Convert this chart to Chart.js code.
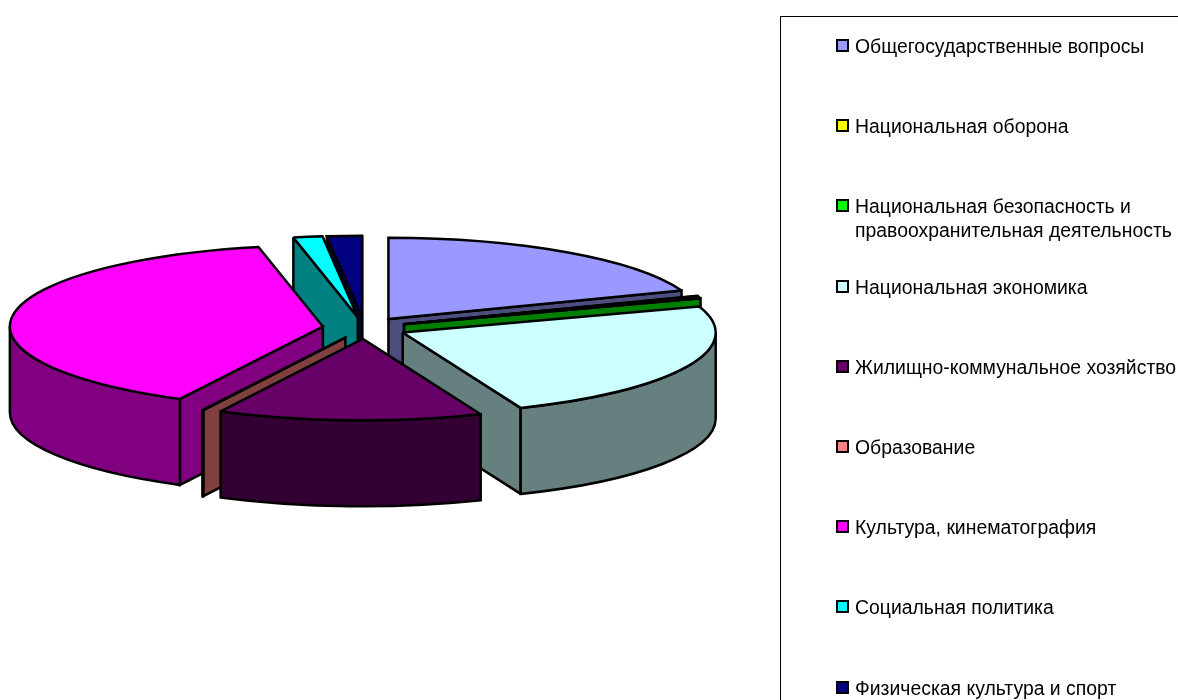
<!DOCTYPE html>
<html>
<head>
<meta charset="utf-8">
<title>Расходы бюджета</title>
<script src="https://cdn.jsdelivr.net/npm/chart.js@4/dist/chart.umd.min.js"></script>
<style>
    html, body { margin: 0; padding: 0; background: #fff; overflow: hidden; }
    #wrap { position: relative; width: 1178px; height: 700px; overflow: hidden; }
    #pie { position: absolute; left: 0; top: 0; }
    #legend {
        position: absolute; left: 780px; top: 16px; width: 420px; height: 720px;
        border: 1px solid #000; box-sizing: border-box;
        font-family: "Liberation Sans", Arial, sans-serif; font-size: 19.4px; color: #000;
    }
    .item { position: absolute; left: 74px; white-space: pre-line; line-height: 24px; }
    .swatch {
        position: absolute; left: -19px; top: 5px; width: 9px; height: 9px;
        border: 2px solid #000;
    }
</style>
</head>
<body>
<div id="wrap">
    <canvas id="pie" width="1178" height="700"></canvas>
    <div id="legend"></div>
</div>
<script>
// Chart data
const categories = [
    'Общегосударственные вопросы',
    'Национальная оборона',
    'Национальная безопасность и\nправоохранительная деятельность',
    'Национальная экономика',
    'Жилищно-коммунальное хозяйство',
    'Образование',
    'Культура, кинематография',
    'Социальная политика',
    'Физическая культура и спорт'
];
const values = [19.3, 0.1, 0.4, 24.05, 13.65, 0.05, 39.15, 1.5, 1.8];
const topColors = ['#9999FF', '#FFFF00', '#00FF00', '#CCFFFF', '#660066', '#FF8080', '#FF00FF', '#00FFFF', '#000080'];

// Look of the tilted pie
const squash = 0.26;
const depth = 86;
const explode = 42;

function halfColor(hex) {
    const n = parseInt(hex.slice(1), 16);
    const r = Math.round((n >> 16) / 2);
    const g = Math.round(((n >> 8) & 255) / 2);
    const b = Math.round((n & 255) / 2);
    return `rgb(${r},${g},${b})`;
}

// Paints the library's arc elements as thick tilted slices, back to front
const tiltedPie = {
    id: 'tiltedPie',
    beforeDatasetDraw(chart, args) {
        const ctx = chart.ctx;
        const slices = chart.getDatasetMeta(args.index).data.map((arc, i) => {
            const mid = (arc.startAngle + arc.endAngle) / 2;
            return {
                i,
                mid,
                a0: arc.startAngle,
                a1: arc.endAngle,
                r: arc.outerRadius,
                cx: arc.x + Math.cos(mid) * arc.options.offset,
                cy: arc.y + Math.sin(mid) * arc.options.offset * squash
            };
        });
        slices.sort((a, b) => Math.sin(a.mid) - Math.sin(b.mid));

        ctx.save();
        ctx.lineWidth = 2.5;
        ctx.strokeStyle = '#000';
        ctx.lineJoin = 'miter';
        ctx.miterLimit = 2;
        slices.forEach(s => {
            const rx = s.r;
            const ry = s.r * squash;
            const wall = halfColor(topColors[s.i]);

            // cut faces, only those turned towards us
            const faces = [];
            if (Math.cos(s.a0) < 0) faces.push(s.a0);
            if (Math.cos(s.a1) > 0) faces.push(s.a1);
            faces.forEach(a => {
                const ex = s.cx + rx * Math.cos(a);
                const ey = s.cy + ry * Math.sin(a);
                ctx.beginPath();
                ctx.moveTo(s.cx, s.cy);
                ctx.lineTo(ex, ey);
                ctx.lineTo(ex, ey + depth);
                ctx.lineTo(s.cx, s.cy + depth);
                ctx.closePath();
                ctx.fillStyle = wall;
                ctx.fill();
                ctx.stroke();
            });

            // outer wall, only the part facing us
            const w0 = Math.max(s.a0, 0);
            const w1 = Math.min(s.a1, Math.PI);
            if (w1 > w0) {
                ctx.beginPath();
                ctx.ellipse(s.cx, s.cy, rx, ry, 0, w0, w1);
                ctx.ellipse(s.cx, s.cy + depth, rx, ry, 0, w1, w0, true);
                ctx.closePath();
                ctx.fillStyle = wall;
                ctx.fill();
                ctx.stroke();
            }

            // top face
            ctx.beginPath();
            ctx.moveTo(s.cx, s.cy);
            ctx.ellipse(s.cx, s.cy, rx, ry, 0, s.a0, s.a1);
            ctx.closePath();
            ctx.fillStyle = topColors[s.i];
            ctx.fill();
            ctx.stroke();
        });
        ctx.restore();
        return false;
    }
};

new Chart(document.getElementById('pie'), {
    type: 'pie',
    data: {
        labels: categories,
        datasets: [{
            data: values,
            backgroundColor: topColors,
            borderWidth: 0,
            offset: explode
        }]
    },
    options: {
        responsive: false,
        animation: false,
        radius: 313,
        layout: { padding: { right: 449, bottom: 44 } },
        plugins: {
            legend: { display: false },
            tooltip: { enabled: false }
        }
    },
    plugins: [tiltedPie]
});

// Legend
const legendBox = document.getElementById('legend');
categories.forEach((name, i) => {
    const item = document.createElement('div');
    item.className = 'item';
    item.style.top = (17 + i * 80.2) + 'px';
    item.textContent = name;
    const swatch = document.createElement('span');
    swatch.className = 'swatch';
    swatch.style.background = topColors[i];
    item.appendChild(swatch);
    legendBox.appendChild(item);
});
</script>
</body>
</html>
